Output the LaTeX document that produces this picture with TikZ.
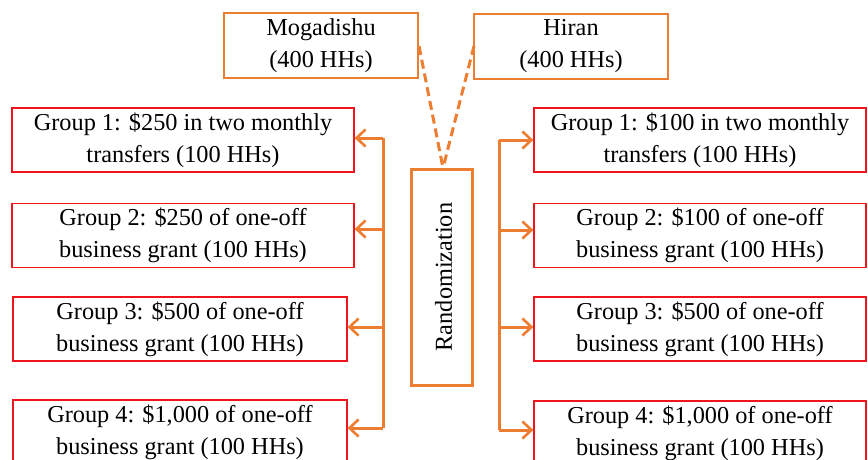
\documentclass[tikz,border=0pt]{standalone}
\usepackage{fontspec}
\setmainfont{Liberation Serif}
\usetikzlibrary{arrows.meta}
\definecolor{orng}{RGB}{237,125,49}
\definecolor{rd}{RGB}{240,20,30}
\tikzset{
  txt/.style={font=\fontsize{24.3}{32}\selectfont, align=center, inner sep=0pt},
  grpbox/.style={txt, draw=rd, line width=1.3pt, minimum height=64},
  regbox/.style={txt, draw=orng, line width=1.3pt, minimum width=194, minimum height=65},
  randbox/.style={draw=orng, line width=3pt, minimum width=61, minimum height=216, inner sep=0pt},
  conn/.style={draw=orng, line width=3pt},
  arr/.style={conn, -{Straight Barb[length=9pt,width=17pt,line width=2.6pt]}},
  dsh/.style={draw=orng, line width=3pt, dash pattern=on 9pt off 5pt}
}
\begin{document}
\begin{tikzpicture}[x=1pt,y=-1pt]
\useasboundingbox (0,0) rectangle (868,459);
\clip (0,0) rectangle (868,459);
% regions
\node[regbox] (mog) at (321,45.5) {Mogadishu\\(400 HHs)};
\node[regbox] (hir) at (571,46.5) {Hiran\\(400 HHs)};
% randomization
\node[randbox] (rand) at (441.5,277) {};
\node[txt, rotate=90] (randt) at ([xshift=2pt]rand.center) {Randomization};
% left groups
\node[grpbox, minimum width=342] (l1) at (183,140) {Group 1: \$250 in two monthly\\transfers (100 HHs)};
\node[grpbox, minimum width=342] (l2) at (183,235.5) {Group 2: \$250 of one-off\\business grant (100 HHs)};
\node[grpbox, minimum width=334] (l3) at (180,329) {Group 3: \$500 of one-off\\business grant (100 HHs)};
\node[grpbox, minimum width=334] (l4) at (180,432) {Group 4: \$1,000 of one-off\\business grant (100 HHs)};
% right groups
\node[grpbox, minimum width=332] (r1) at (700,140) {Group 1: \$100 in two monthly\\transfers (100 HHs)};
\node[grpbox, minimum width=332] (r2) at (700,235.5) {Group 2: \$100 of one-off\\business grant (100 HHs)};
\node[grpbox, minimum width=332] (r3) at (700,329) {Group 3: \$500 of one-off\\business grant (100 HHs)};
\node[grpbox, minimum width=332] (r4) at (700,433) {Group 4: \$1,000 of one-off\\business grant (100 HHs)};
% dashed links
\coordinate (mogc) at (419,46);
\coordinate (hirc) at (474,46);
\coordinate (top) at (443,168);
\draw[dsh] (mogc) -- (top);
\draw[dsh] (hirc) -- (top);
% left trunk
\coordinate (L1) at (383,138);
\coordinate (L2) at (383,229);
\coordinate (L3) at (383,327);
\coordinate (L4) at (383,428);
\draw[conn] (L1) -- (L4);
\draw[arr] (L1) -- (L1 -| l1.east);
\draw[arr] (L2) -- (L2 -| l2.east);
\draw[arr] (L3) -- (L3 -| l3.east);
\draw[arr] (L4) -- (L4 -| l4.east);
% right trunk
\coordinate (R1) at (499,140);
\coordinate (R2) at (499,230);
\coordinate (R3) at (499,327);
\coordinate (R4) at (499,430);
\draw[conn] (R1) -- (R4);
\draw[arr] (R1) -- (R1 -| r1.west);
\draw[arr] (R2) -- (R2 -| r2.west);
\draw[arr] (R3) -- (R3 -| r3.west);
\draw[arr] (R4) -- (R4 -| r4.west);
\end{tikzpicture}
\end{document}
